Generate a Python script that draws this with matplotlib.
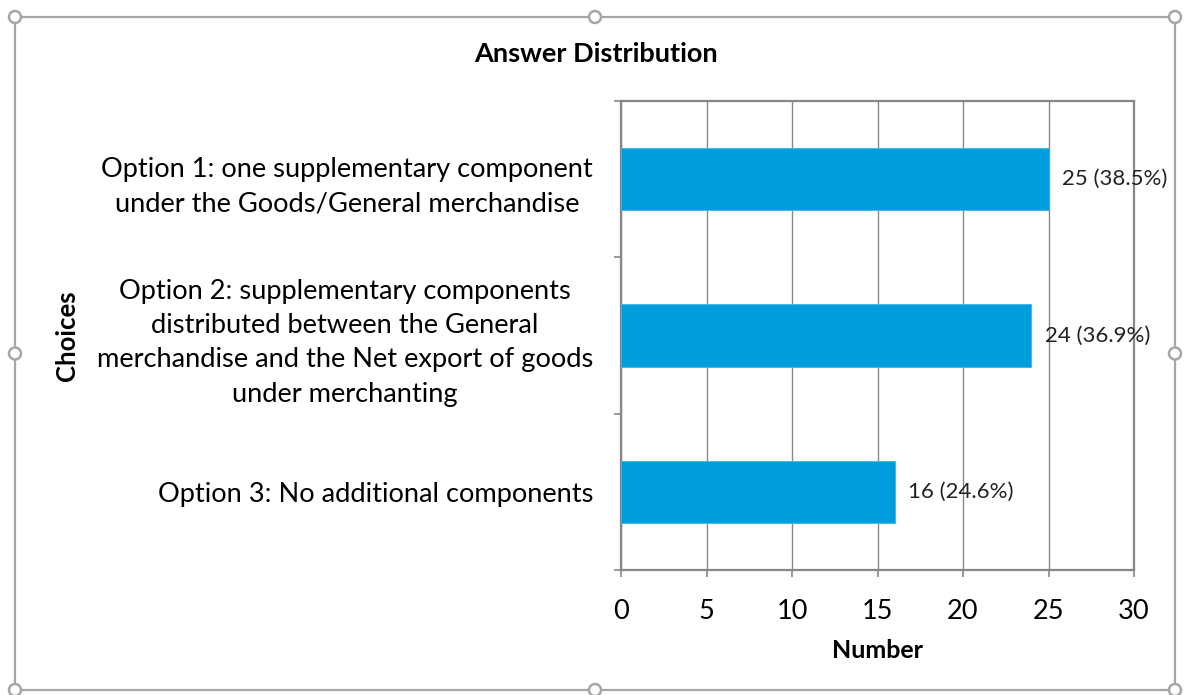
import matplotlib.pyplot as plt
from matplotlib.patches import Rectangle, Circle
from matplotlib.ticker import FixedLocator

plt.rcParams['font.family'] = ['Lato', 'DejaVu Sans']

# data
choices = [
    "Option 1: one supplementary component\nunder the Goods/General merchandise",
    "Option 2: supplementary components\ndistributed between the General\nmerchandise and the Net export of goods\nunder merchanting",
    "Option 3: No additional components",
]
counts = [25, 24, 16]
percents = [38.5, 36.9, 24.6]
x_ticks = [0, 5, 10, 15, 20, 25, 30]

bar_color = '#009DDC'
grey = '#878787'
W, H = 1195, 695

fig = plt.figure(figsize=(11.95, 6.95), dpi=100)
ax = fig.add_axes([621 / W, 1 - 570 / H, 513 / W, 469 / H])

pos = list(range(len(choices)))
ax.barh(pos, counts, height=0.4, color=bar_color, edgecolor='#3DB5E6', linewidth=0.6, zorder=3)
ax.set_ylim(2.5, -0.5)
ax.set_xlim(0, 30)

for p, c, pct in zip(pos, counts, percents):
    ax.annotate(f"{c} ({pct}%)", xy=(c, p), xytext=(10, 0), textcoords='offset points',
                va='center', ha='left', fontsize=16, color='#222222', zorder=4)

ax.set_xticks(x_ticks)
ax.set_xticklabels([str(t) for t in x_ticks], fontsize=19.5)
ax.set_yticks(pos)
ax.set_yticklabels(choices, fontsize=19.6, multialignment='center', linespacing=1.47)
ax.yaxis.set_minor_locator(FixedLocator([-0.5, 0.5, 1.5, 2.5]))
ax.tick_params(axis='y', which='major', length=0, pad=20)
ax.tick_params(axis='y', which='minor', length=5, color=grey, width=1.2)
ax.tick_params(axis='x', length=5, color=grey, width=1.2, pad=16)

ax.grid(axis='x', color=grey, linewidth=1, zorder=0)
for s in ax.spines.values():
    s.set_color(grey)
    s.set_linewidth(1.6)

ax.set_xlabel("Number", fontsize=18, fontweight='bold', labelpad=11)
ax.set_ylabel("Choices", fontsize=18.5, fontweight='bold')
ax.yaxis.set_label_coords((79 - 621) / 513, 0.5)
fig.text(596 / W, 1 - 54 / H, "Answer Distribution", ha='center', va='center',
         fontsize=19.5, fontweight='bold')

# selection frame around the chart
x0, x1, y0, y1 = 15 / W, 1175 / W, 1 - 690 / H, 1 - 17 / H
fig.patches.append(Rectangle((x0, y0), x1 - x0, y1 - y0, transform=fig.transFigure,
                             fill=False, edgecolor='#a6a6a6', linewidth=1.6))
xm, ym = (x0 + x1) / 2, (y0 + y1) / 2
for hx, hy in [(x0, y0), (xm, y0), (x1, y0), (x0, ym), (x1, ym), (x0, y1), (xm, y1), (x1, y1)]:
    fig.patches.append(Circle((hx * W, hy * H), 6, transform=None, facecolor='white',
                              edgecolor='#a6a6a6', linewidth=1.8))

fig.savefig('out.png', dpi=100)
